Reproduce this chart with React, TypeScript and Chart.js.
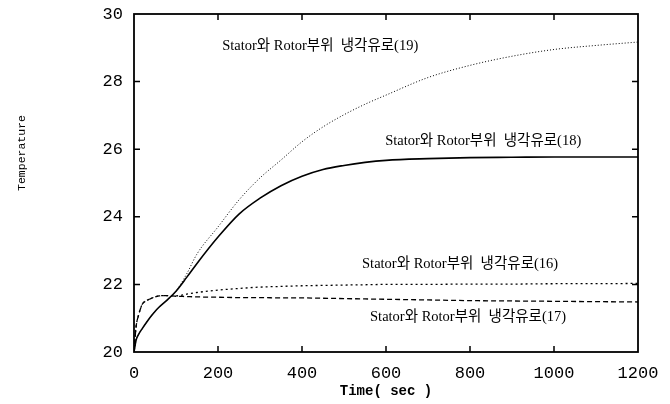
import React, { useEffect, useRef } from "react";
import { Chart, registerables } from "chart.js";

Chart.register(...registerables);

const times = [0, 5, 10, 20, 30, 40, 50, 60, 80, 100, 125, 150, 200, 250, 300, 350, 400, 450, 500, 550, 600, 700, 800, 900, 1000, 1100, 1200];
const series16 = [20.0, 20.75, 21.05, 21.42, 21.52, 21.58, 21.63, 21.66, 21.67, 21.66, 21.71, 21.76, 21.83, 21.88, 21.92, 21.94, 21.96, 21.97, 21.98, 21.99, 22.0, 22.0, 22.01, 22.01, 22.02, 22.02, 22.03];
const series17 = [20.0, 20.75, 21.05, 21.42, 21.52, 21.58, 21.63, 21.66, 21.67, 21.65, 21.64, 21.63, 21.62, 21.61, 21.61, 21.6, 21.6, 21.59, 21.58, 21.57, 21.56, 21.54, 21.52, 21.51, 21.5, 21.49, 21.48];
const series18 = [20.0, 20.35, 20.5, 20.7, 20.88, 21.05, 21.2, 21.33, 21.55, 21.8, 22.2, 22.62, 23.4, 24.08, 24.55, 24.92, 25.2, 25.4, 25.52, 25.61, 25.67, 25.72, 25.75, 25.76, 25.77, 25.77, 25.77];
const series19 = [20.0, 20.35, 20.5, 20.7, 20.88, 21.05, 21.2, 21.33, 21.55, 21.8, 22.3, 22.9, 23.7, 24.5, 25.15, 25.68, 26.22, 26.66, 27.02, 27.33, 27.6, 28.12, 28.48, 28.75, 28.95, 29.07, 29.17];

const seriesNames = ["Stator와 Rotor부위  냉각유로(16)", "Stator와 Rotor부위  냉각유로(17)", "Stator와 Rotor부위  냉각유로(18)", "Stator와 Rotor부위  냉각유로(19)"];
// label anchor (left edge x, centre y) in data units
const labelX = [543, 562, 598, 210];
const labelY = [22.6, 21.04, 26.25, 29.06];

const xTicks = [0, 200, 400, 600, 800, 1000, 1200];
const yTicks = [20, 22, 24, 26, 28, 30];
const xTitle = "Time( sec )";
const yTitle = "Temperature";

const mono = "'Liberation Mono', 'DejaVu Sans Mono', monospace";
const serif = "'Liberation Serif', 'Noto Sans CJK KR', serif";

const framePlugin = {
  id: "framePlugin",
  afterDraw(chart: any) {
    const { ctx, chartArea: a, scales } = chart;
    const xs = scales.x;
    const ys = scales.y;
    ctx.save();
    ctx.strokeStyle = "#000";
    ctx.lineWidth = 1.8;
    ctx.strokeRect(a.left, a.top, a.right - a.left, a.bottom - a.top);
    ctx.lineWidth = 1.5;
    const len = 6;
    xTicks.slice(1, -1).forEach((v) => {
      const px = xs.getPixelForValue(v);
      ctx.beginPath();
      ctx.moveTo(px, a.bottom);
      ctx.lineTo(px, a.bottom - len);
      ctx.moveTo(px, a.top);
      ctx.lineTo(px, a.top + len);
      ctx.stroke();
    });
    yTicks.slice(1, -1).forEach((v) => {
      const py = ys.getPixelForValue(v);
      ctx.beginPath();
      ctx.moveTo(a.left, py);
      ctx.lineTo(a.left + len, py);
      ctx.moveTo(a.right, py);
      ctx.lineTo(a.right - len, py);
      ctx.stroke();
    });
    // annotations
    ctx.fillStyle = "#000";
    ctx.font = `14.5px ${serif}`;
    ctx.textAlign = "left";
    ctx.textBaseline = "middle";
    seriesNames.forEach((t, i) => {
      ctx.fillText(t, xs.getPixelForValue(labelX[i]), ys.getPixelForValue(labelY[i]));
    });
    // axis titles
    ctx.font = `bold 14px ${mono}`;
    ctx.textAlign = "center";
    ctx.fillText(xTitle, (a.left + a.right) / 2, 391);
    ctx.save();
    ctx.translate(22, 153);
    ctx.rotate(-Math.PI / 2);
    ctx.font = `11.5px ${mono}`;
    ctx.fillText(yTitle, 0, 0);
    ctx.restore();
    ctx.restore();
  },
};

export default function App() {
  const ref = useRef<HTMLCanvasElement | null>(null);
  useEffect(() => {
    if (!ref.current) return;
    const mk = (d: number[]) => d.map((y, i) => ({ x: times[i], y }));
    const chart = new Chart(ref.current, {
      type: "line",
      data: {
        datasets: [
          { label: seriesNames[0], data: mk(series16), borderColor: "#000", borderWidth: 1.3, borderDash: [2, 3] },
          { label: seriesNames[1], data: mk(series17), borderColor: "#000", borderWidth: 1.3, borderDash: [5, 3] },
          { label: seriesNames[2], data: mk(series18), borderColor: "#000", borderWidth: 1.6 },
          { label: seriesNames[3], data: mk(series19), borderColor: "#000", borderWidth: 1, borderDash: [1, 2] },
        ],
      },
      options: {
        responsive: false,
        animation: false,
        layout: { padding: { left: 0, right: 32, top: 14, bottom: 0 } },
        plugins: { legend: { display: false }, tooltip: { enabled: false } },
        elements: { point: { radius: 0 }, line: { cubicInterpolationMode: "monotone" } },
        scales: {
          x: {
            type: "linear",
            min: 0,
            max: 1200,
            afterFit: (s: any) => { s.height = 52; s.paddingLeft = 0; s.paddingRight = 0; },
            afterBuildTicks: (s: any) => { s.ticks = xTicks.map((v) => ({ value: v })); },
            grid: { display: false, drawTicks: false, tickLength: 0 },
            border: { display: false },
            ticks: { color: "#000", padding: 11, maxRotation: 0, font: { family: mono, size: 17 }, callback: (v: any) => String(v) },
          },
          y: {
            type: "linear",
            min: 20,
            max: 30,
            afterFit: (s: any) => { s.width = 134; s.paddingTop = 0; s.paddingBottom = 0; },
            afterBuildTicks: (s: any) => { s.ticks = yTicks.map((v) => ({ value: v })); },
            grid: { display: false, drawTicks: false, tickLength: 0 },
            border: { display: false },
            ticks: { color: "#000", padding: 11, font: { family: mono, size: 17 }, callback: (v: any) => String(v) },
          },
        },
      } as any,
      plugins: [framePlugin],
    });
    return () => chart.destroy();
  }, []);
  return (
    <div style={{ position: "absolute", left: 0, top: 0, width: 670, height: 404, background: "#fff" }}>
      <canvas ref={ref} width={670} height={404} style={{ display: "block" }} />
    </div>
  );
}
